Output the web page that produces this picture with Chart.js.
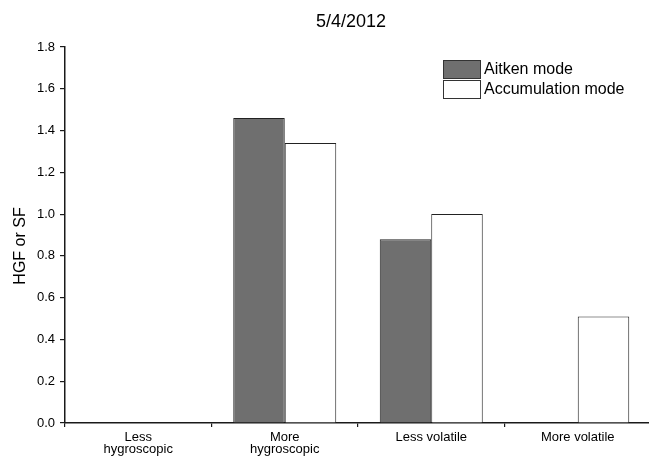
<!DOCTYPE html>
<html>
<head>
<meta charset="utf-8">
<script src="https://cdn.jsdelivr.net/npm/chart.js@4/dist/chart.umd.min.js"></script>
<style>
    html, body { margin: 0; padding: 0; background: #fff; overflow: hidden; }
    #wrap { width: 700px; height: 459px; }
</style>
</head>
<body>
<div id="wrap"><canvas id="chart" width="700" height="459"></canvas></div>
<script>
// データ
const chartTitle = '5/4/2012';
const yAxisTitle = 'HGF or SF';
const categories = [['Less', 'hygroscopic'], ['More', 'hygroscopic'], 'Less volatile', 'More volatile'];
const seriesNames = ['Aitken mode', 'Accumulation mode'];
const aitkenValues = [null, 1.46, 0.88, null];
const accumulationValues = [null, 1.34, 1.00, 0.51];
const yTicks = [0.0, 0.2, 0.4, 0.6, 0.8, 1.0, 1.2, 1.4, 1.6, 1.8];

const FONT = '"Liberation Sans", Arial, sans-serif';
const AXIS_COLOR = '#1a1a1a';

// タイトル・軸タイトル・凡例を手描きするプラグイン
const decorations = {
    id: 'decorations',
    afterDraw(chart) {
        const ctx = chart.ctx;
        ctx.save();
        ctx.fillStyle = '#000';
        ctx.textBaseline = 'middle';

        // タイトル
        ctx.font = '18px ' + FONT;
        ctx.textAlign = 'center';
        ctx.fillText(chartTitle, 351, 22);

        // Y軸タイトル
        ctx.save();
        ctx.translate(21, 246);
        ctx.rotate(-Math.PI / 2);
        ctx.font = '16px ' + FONT;
        ctx.fillText(yAxisTitle, 0, 0);
        ctx.restore();

        // 凡例
        ctx.font = '16px ' + FONT;
        ctx.textAlign = 'left';
        chart.data.datasets.forEach((ds, i) => {
            const top = 60.5 + i * 20;
            ctx.fillStyle = ds.backgroundColor;
            ctx.fillRect(443.5, top, 37, 18);
            ctx.strokeStyle = '#333';
            ctx.lineWidth = 1;
            ctx.strokeRect(443.5, top, 37, 18);
            ctx.fillStyle = '#000';
            ctx.fillText(ds.label, 484, top + 9.5);
        });
        ctx.restore();
    }
};

new Chart(document.getElementById('chart'), {
    type: 'bar',
    data: {
        labels: categories,
        datasets: [
            {
                label: seriesNames[0],
                data: aitkenValues,
                backgroundColor: '#6f6f6f',
                borderColor: '#222',
                borderWidth: 1,
                categoryPercentage: 0.703,
                barPercentage: 1.0
            },
            {
                label: seriesNames[1],
                data: accumulationValues,
                backgroundColor: '#ffffff',
                borderColor: '#222',
                borderWidth: 1,
                categoryPercentage: 0.703,
                barPercentage: 1.0
            }
        ]
    },
    options: {
        responsive: false,
        animation: false,
        layout: { padding: { left: 0, top: 47, right: 49, bottom: 0 } },
        plugins: {
            legend: { display: false },
            title: { display: false },
            tooltip: { enabled: false }
        },
        scales: {
            x: {
                offset: true,
                grid: {
                    offset: true,
                    drawOnChartArea: false,
                    drawTicks: true,
                    tickLength: 4,
                    color: AXIS_COLOR,
                    lineWidth: 1.2
                },
                border: { display: true, color: AXIS_COLOR, width: 1.5 },
                ticks: {
                    color: '#000',
                    padding: 4,
                    maxRotation: 0,
                    autoSkip: false,
                    font: { family: FONT, size: 13, lineHeight: 0.95 }
                },
                afterFit(scale) { scale.height = 36; }
            },
            y: {
                min: 0,
                max: 1.8,
                grid: {
                    drawOnChartArea: false,
                    drawTicks: true,
                    tickLength: 5,
                    color: AXIS_COLOR,
                    lineWidth: 1.2
                },
                border: { display: true, color: AXIS_COLOR, width: 1.5 },
                afterBuildTicks(scale) {
                    scale.ticks = yTicks.map(v => ({ value: v }));
                },
                ticks: {
                    color: '#000',
                    padding: 5,
                    font: { family: FONT, size: 13 },
                    callback: v => Number(v).toFixed(1)
                },
                afterFit(scale) { scale.width = 65; }
            }
        }
    },
    plugins: [decorations]
});
</script>
</body>
</html>
